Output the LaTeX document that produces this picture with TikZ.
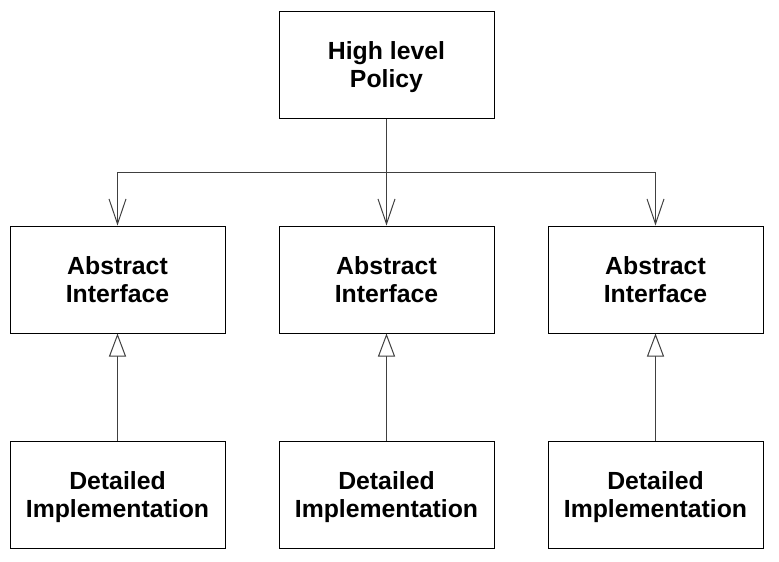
\documentclass[tikz,border=0pt]{standalone}
\usepackage{fontspec}
\setmainfont{Liberation Sans}
\usetikzlibrary{arrows.meta}
\begin{document}
\begin{tikzpicture}[x=1pt,y=-1pt,
  box/.style={draw=black, line width=1pt, minimum width=215pt, minimum height=107pt,
    inner sep=0pt, align=center, text height=51pt, text depth=5pt,
    font=\fontsize{24.8}{28}\selectfont\bfseries},
  link/.style={draw=black!75, line width=1pt},
  uses/.style={link, -{Straight Barb[length=25pt, width=17pt, line width=1pt]}},
  realizes/.style={link, -{Triangle[open, length=23pt, width=17pt, line width=1pt, fill=white]}}]
  \useasboundingbox (0,0) rectangle (779,562);

  % policy at the top
  \node[box] (policy) at (386.5,64.5) {High level\\Policy};

  % abstract interfaces
  \node[box] (ia) at (117.5,279.5) {Abstract\\Interface};
  \node[box] (ib) at (386.5,279.5) {Abstract\\Interface};
  \node[box] (ic) at (655.5,279.5) {Abstract\\Interface};

  % detailed implementations
  \node[box] (da) at (117.5,494.5) {Detailed\\Implementation};
  \node[box] (db) at (386.5,494.5) {Detailed\\Implementation};
  \node[box] (dc) at (655.5,494.5) {Detailed\\Implementation};

  % dependency bus from the policy
  \coordinate (bus) at (386.5,172);
  \draw[link] (policy.south) -- (bus);
  \draw[uses] (bus) -| (ia.north);
  \draw[uses] (bus) -- (ib.north);
  \draw[uses] (bus) -| (ic.north);

  % implementations realize the interfaces
  \draw[realizes] (da.north) -- (ia.south);
  \draw[realizes] (db.north) -- (ib.south);
  \draw[realizes] (dc.north) -- (ic.south);
\end{tikzpicture}
\end{document}
